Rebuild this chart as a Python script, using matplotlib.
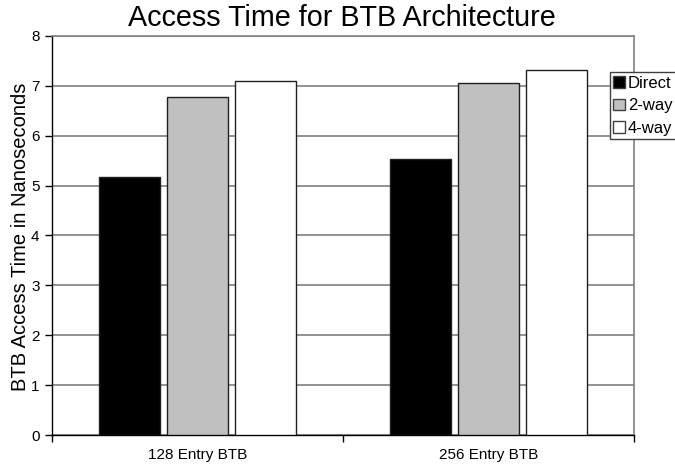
import numpy as np
import matplotlib.pyplot as plt

plt.rcParams['font.family'] = ['Liberation Sans', 'DejaVu Sans']

# access times (ns) per BTB size and associativity
categories = ['128 Entry BTB', '256 Entry BTB']
direct = [5.17, 5.53]
two_way = [6.78, 7.06]
four_way = [7.10, 7.32]
series = [('Direct', direct, 'black'),
          ('2-way', two_way, '#c0c0c0'),
          ('4-way', four_way, 'white')]

fig = plt.figure(figsize=(6.75, 4.67), dpi=100)
ax = fig.add_axes([0.077, 0.0685, 0.862, 0.8545])

x = np.arange(len(categories)) + 0.5
width = 0.21
step = 0.233
for i, (name, vals, col) in enumerate(series):
    ax.bar(x + (i - 1) * step, vals, width, color=col, edgecolor='#202020',
           linewidth=1.0, label=name, zorder=3)

ax.set_xlim(0, 2)
ax.set_ylim(0, 8)
ax.set_yticks(range(0, 9))
# category boundaries get the tick marks, names sit in between
ax.set_xticks([0, 1, 2])
ax.set_xticklabels(['', '', ''])
ax.set_xticks(x, minor=True)
ax.set_xticklabels(categories, minor=True, fontsize=11)
ax.tick_params(axis='x', which='minor', length=0, pad=9)
ax.tick_params(axis='x', which='major', direction='out', length=5, width=1)
ax.tick_params(axis='y', direction='out', length=5, width=1, labelsize=11, pad=4)

ax.yaxis.grid(True, color='#808080', linewidth=1.2, zorder=0)
ax.set_axisbelow(True)
for side in ['top', 'right']:
    ax.spines[side].set_color('#808080')
    ax.spines[side].set_linewidth(1.2)
for side in ['left', 'bottom']:
    ax.spines[side].set_color('black')
    ax.spines[side].set_linewidth(1.0)

fig.text(21 / 675, 1 - 237 / 467, 'BTB Access Time in Nanoseconds',
         fontsize=14.5, rotation=90, ha='center', va='center')
fig.text(0.506, 0.961, 'Access Time for BTB Architecture', fontsize=20.7,
         ha='center', va='center')

leg = fig.legend(loc='upper left', bbox_to_anchor=(0.903, 0.845), fontsize=12,
                 frameon=True, fancybox=False, handlelength=0.7,
                 handleheight=0.7, handletextpad=0.2, borderpad=0.2,
                 labelspacing=0.45, borderaxespad=0)
leg.get_frame().set_edgecolor('#404040')
leg.get_frame().set_linewidth(1.0)
leg.get_frame().set_alpha(1)
for h in leg.legend_handles:
    h.set_edgecolor('#404040')

fig.savefig('out.png', dpi=100)
